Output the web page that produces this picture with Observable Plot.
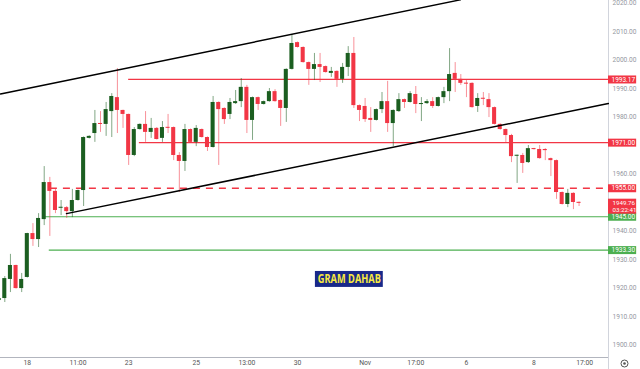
<!DOCTYPE html>
<html><head><meta charset="utf-8">
<script src="https://cdn.jsdelivr.net/npm/d3@7"></script>
<script src="https://cdn.jsdelivr.net/npm/@observablehq/plot@0.6"></script>
<style>
html,body{margin:0;padding:0;background:#fff;overflow:hidden;}
#chart svg{display:block;}
</style></head><body><div id="chart"></div>
<script>
// ---- data ----
const firstIndex = -1;
const opens = [1915.6,1916.3,1923.0,1927.9,1919.8,1923.7,1939.1,1937.0,1944.0,1957.0,1953.9,1948.1,1948.2,1946.8,1950.7,1954.2,1972.5,1974.2,1977.7,1977.4,1981.9,1986.8,1982.3,1980.9,1966.5,1975.6,1977.4,1974.6,1976.0,1972.5,1976.3,1976.3,1966.5,1964.4,1975.6,1971.1,1975.6,1972.8,1969.3,1985.1,1983.0,1980.9,1984.7,1985.4,1990.4,1978.8,1986.8,1984.4,1985.4,1988.9,1985.8,1983.0,1996.7,2006.1,2004.4,1999.1,1996.7,1998.4,1997.7,1995.3,1996.0,1993.2,1997.4,2002.3,1984.0,1983.7,1979.5,1978.8,1982.6,1985.4,1977.7,1981.9,1986.1,1985.1,1987.9,1984.4,1984.7,1985.4,1983.7,1986.8,1988.9,1995.3,1993.2,1991.8,1991.8,1983.7,1986.5,1986.1,1983.3,1977.4,1975.6,1973.5,1966.3,1966.5,1964.0,1968.9,1968.6,1968.6,1965.4,1964.7,1953.5,1949.3,1953.2,1950.0];
const highs = [1916.7,1924.0,1931.8,1928.0,1925.1,1939.2,1942.6,1946.1,1962.6,1958.8,1954.6,1950.7,1948.6,1954.6,1954.4,1973.0,1973.4,1982.3,1981.9,1985.1,1988.2,1997.0,1982.4,1981.0,1976.3,1977.6,1981.9,1979.5,1976.3,1978.4,1980.9,1976.5,1967.5,1977.4,1975.8,1977.0,1975.8,1973.0,1987.2,1985.3,1983.2,1986.5,1989.3,1993.5,1991.1,1987.0,1987.0,1985.6,1990.0,1989.6,1986.0,1996.9,2008.9,2006.3,2004.6,1999.3,2002.3,2002.3,1997.9,1997.4,1996.2,1998.8,2004.7,2007.9,1984.2,1986.5,1983.3,1982.8,1988.6,1992.5,1982.5,1988.2,1986.3,1988.9,1990.7,1986.8,1986.1,1986.8,1987.0,1990.4,2004.0,1999.1,1994.9,1992.8,1992.0,1988.2,1988.6,1988.2,1983.5,1977.6,1975.8,1973.9,1966.6,1967.2,1970.0,1969.0,1970.0,1968.9,1965.6,1964.9,1953.7,1954.6,1953.4,1950.2];
const lows = [1914.9,1914.9,1918.4,1919.6,1918.4,1923.5,1934.6,1934.2,1941.9,1938.1,1946.1,1945.4,1944.4,1944.7,1950.5,1948.6,1972.3,1971.1,1974.6,1973.2,1972.8,1974.2,1976.0,1963.0,1966.1,1975.4,1971.1,1972.5,1971.9,1971.1,1974.2,1964.7,1953.5,1960.9,1970.9,1969.6,1972.6,1967.9,1969.1,1963.0,1977.4,1979.1,1984.4,1983.3,1974.2,1971.8,1982.3,1984.2,1985.2,1985.2,1976.7,1978.1,1996.5,2004.2,1998.9,1991.1,1992.8,1992.1,1995.4,1993.9,1990.4,1991.8,1994.2,1983.0,1978.4,1978.1,1974.6,1978.6,1981.2,1974.6,1969.6,1981.6,1983.0,1984.9,1981.2,1978.4,1984.4,1983.0,1983.5,1984.7,1985.4,1988.6,1991.1,1986.8,1983.1,1981.6,1984.0,1979.8,1977.2,1975.4,1970.7,1964.0,1956.7,1960.2,1963.7,1968.4,1965.2,1964.7,1959.1,1951.1,1949.1,1948.2,1947.5,1948.6];
const closes = [1916.3,1923.3,1927.9,1919.8,1923.0,1939.1,1937.0,1944.4,1957.0,1953.9,1947.2,1948.2,1946.8,1950.7,1954.2,1972.8,1973.2,1977.7,1977.4,1982.6,1987.2,1982.3,1980.9,1966.5,1975.6,1977.4,1974.6,1976.0,1972.1,1976.3,1976.1,1966.5,1964.4,1975.6,1971.1,1976.0,1972.8,1969.3,1985.1,1982.6,1979.1,1985.1,1985.4,1990.4,1978.8,1986.8,1984.4,1985.4,1988.9,1985.4,1983.0,1996.7,2005.8,2004.4,1999.1,1996.7,1998.4,1997.4,1995.6,1996.0,1993.2,1997.4,2002.3,1984.0,1982.3,1979.1,1978.8,1982.6,1985.4,1977.7,1982.3,1986.1,1985.1,1988.2,1984.4,1984.7,1985.4,1983.7,1986.8,1988.9,1994.9,1993.2,1991.8,1991.6,1983.3,1986.5,1986.3,1983.3,1977.4,1975.6,1973.5,1966.1,1966.5,1963.7,1968.9,1968.6,1965.4,1968.2,1964.7,1953.5,1949.3,1953.2,1950.0,1949.76];

// horizontal levels (price, first candle index, kind)
const levelPrices = [1993.17, 1971.00, 1955.00, 1945.00, 1933.30];
const levelStarts = [22.0, 23.9, 8.1, 7.2, 7.9];
const levelKinds  = ["resistance", "resistance", "pivot", "support", "support"];

// channel trend lines (candle index, price)
const upperTrend = [[-0.76, 1988.1], [80.9, 2021.1]];
const lowerTrend = [[10.96, 1946.1], [107.2, 1984.7]];

// current price
const lastPrice = 1949.76;
const countdown = "03:22:41";

// axes (1950 and 1970 are covered by the price tags in the reference)
const yTicks = [1900, 1910, 1920, 1930, 1940, 1960, 1980, 1990, 2000, 2010, 2020];
const xTickIdx = [4, 13, 22, 34, 43, 52, 64, 73, 82, 94, 103];
const xTickLabels = ["18", "11:00", "23", "25", "13:00", "30", "Nov", "17:00", "6", "8", "17:00"];

// badge
const badgeText = "GRAM DAHAB";
const badgeAt = {i: 61.2, price: 1923.0};

// ---- build ----
const RED = "#f23645", GREEN_LINE = "#4caf50", GREEN_BODY = "#1b5e20";
const candles = opens.map((o, k) => {
  const c = closes[k];
  let top = Math.max(o, c), bot = Math.min(o, c);
  if (top - bot < 0.35) { const m = (top + bot) / 2; top = m + 0.18; bot = m - 0.18; }
  return {i: firstIndex + k, o, h: highs[k], l: lows[k], c, up: c >= o, top, bot};
});
const xDomain = [-0.764, 107.23];
const xMax = xDomain[1];
const levels = levelPrices.map((p, k) => ({price: p, start: levelStarts[k], kind: levelKinds[k],
  color: levelKinds[k] === "support" ? GREEN_LINE : RED}));
const boxes = levels.map(d => ({price: d.price, label: d.price.toFixed(2), color: d.color}));
const labelMap = new Map(xTickIdx.map((d, k) => [d, xTickLabels[k]]));
const trends = [
  ...upperTrend.map(([i, p]) => ({i, p, line: "upper"})),
  ...lowerTrend.map(([i, p]) => ({i, p, line: "lower"}))
];
const boxW = 5.0;

const chart = Plot.plot({
  width: 640, height: 369,
  marginTop: 0, marginLeft: 0, marginRight: 32, marginBottom: 12,
  style: {fontFamily: "Roboto, 'DejaVu Sans', sans-serif", background: "#fff", overflow: "visible"},
  x: {type: "linear", domain: xDomain},
  y: {domain: [1895.61, 2020.88]},
  marks: [
    Plot.ruleY([1895.61], {stroke: "#b2b5be", strokeWidth: 1}),
    Plot.ruleX([xMax], {stroke: "#d1d4dc", strokeWidth: 1, insetBottom: -12}),
    Plot.ruleY(levels.filter(d => d.kind !== "pivot"), {y: "price", x1: "start", x2: xMax, stroke: "color", strokeWidth: 1.2}),
    Plot.ruleY(levels.filter(d => d.kind === "pivot"), {y: "price", x1: "start", x2: xMax, stroke: "color", strokeWidth: 1.6, strokeDasharray: "7,6"}),
    Plot.ruleX(candles, {x: "i", y1: "l", y2: "h", stroke: d => d.up ? GREEN_BODY : RED, strokeOpacity: 0.55, strokeWidth: 1}),
    Plot.rect(candles, {x1: d => d.i - 0.36, x2: d => d.i + 0.36, y1: "bot", y2: "top", fill: d => d.up ? GREEN_BODY : RED}),
    Plot.line(trends, {x: "i", y: "p", z: "line", stroke: "#000", strokeWidth: 1.5}),
    Plot.axisY(yTicks, {anchor: "right", tickSize: 0, tickPadding: 4, tickFormat: d => d.toFixed(2), fontSize: 6.6, fill: "#9598a1"}),
    Plot.axisX(xTickIdx, {anchor: "bottom", tickSize: 0, tickPadding: 3, tickFormat: d => labelMap.get(d), fontSize: 6.8, fill: "#555"}),
    Plot.ruleY(boxes, {y: "price", x1: xMax, x2: xMax + boxW, stroke: "color", strokeWidth: 8}),
    Plot.text(boxes, {y: "price", x: xMax, text: "label", dx: 3, textAnchor: "start", fill: "#fff", fontSize: 6.5}),
    Plot.ruleY([lastPrice], {x1: xMax, x2: xMax + boxW, stroke: RED, strokeWidth: 15, dy: 3}),
    Plot.text([lastPrice], {y: d => d, x: xMax, text: d => d.toFixed(2) + "\n" + countdown, dx: 4, dy: 3, lineHeight: 1.05, textAnchor: "start", fill: "#fff", fontSize: 6.2}),
    Plot.rect([badgeAt], {x1: d => d.i - 6.03, x2: d => d.i + 6.03, y1: d => d.price - 2.8, y2: d => d.price + 2.8, fill: "#18288a"}),
    Plot.text([badgeAt], {x: "i", y: "price", text: () => badgeText, fill: "#f7e840", fontSize: 11.5, fontWeight: "bold", fontFamily: "'Open Sans', sans-serif"}),
    Plot.dot([0], {frameAnchor: "bottom-right", dx: 16, dy: 6, r: 3.5, stroke: "#555", fill: "none", strokeWidth: 1}),
    Plot.dot([0], {frameAnchor: "bottom-right", dx: 16, dy: 6, r: 1.3, fill: "#555"})
  ]
});
document.getElementById("chart").appendChild(chart);
chart.querySelectorAll("text").forEach(t => {
  if (t.textContent === badgeText) { t.setAttribute("textLength", 63); t.setAttribute("lengthAdjust", "spacingAndGlyphs"); }
});
</script></body></html>
